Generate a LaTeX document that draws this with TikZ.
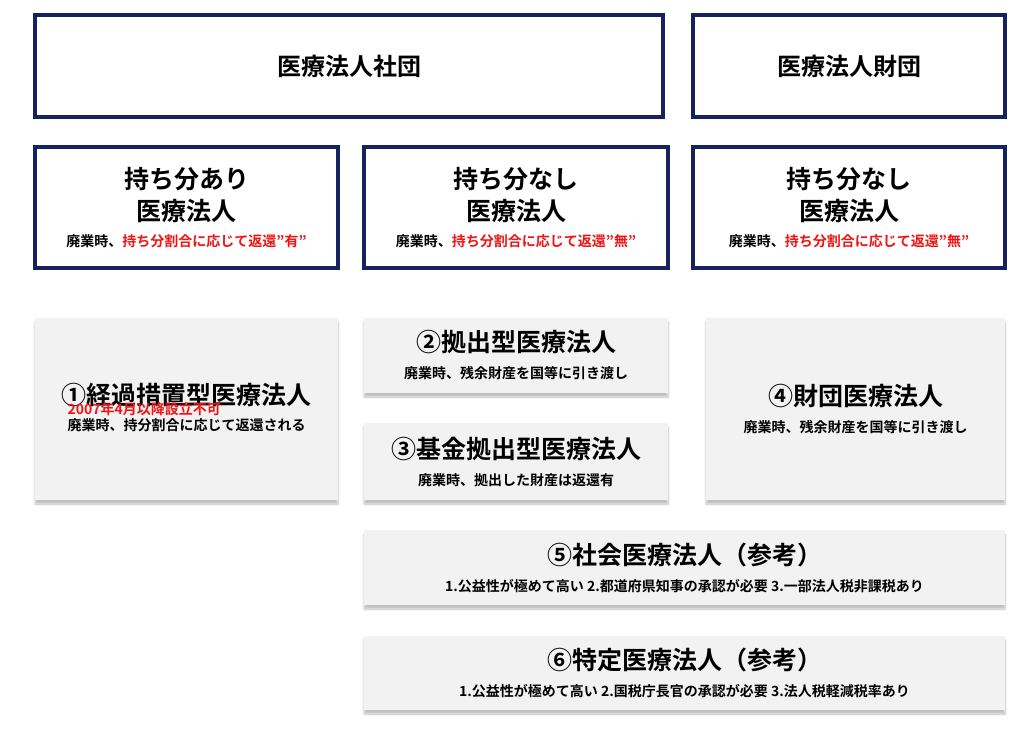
\documentclass[tikz,border=0pt]{standalone}
\usepackage{fontspec}
\setmainfont{Noto Sans CJK JP}[BoldFont={Noto Sans CJK JP Bold}]
\usetikzlibrary{shadows.blur}
\definecolor{navy}{RGB}{20,35,95}
\definecolor{boxgray}{RGB}{242,242,242}
\definecolor{alertred}{RGB}{240,20,20}
\tikzset{
  navybox/.style={draw=navy, line width=3.5pt, fill=white, align=center, inner sep=0pt,
    font=\fontsize{14}{30}\selectfont},
  graybox/.style={fill=boxgray, align=center, inner sep=0pt, font=\fontsize{14}{30}\selectfont,
    blur shadow={shadow xshift=0pt, shadow yshift=-4pt, shadow blur steps=6, shadow opacity=25}},
  big/.style={font=\bfseries\fontsize{24}{28}\selectfont}
}
\newcommand{\red}[1]{\textcolor{alertred}{#1}}
\newcommand{\bigt}[1]{{\fontsize{25}{30}\selectfont\bfseries #1}}
\newcommand{\smallt}[1]{{\fontsize{14}{19}\selectfont\bfseries #1}}
\begin{document}
\begin{tikzpicture}[x=1pt, y=-1pt]
\useasboundingbox (0,0) rectangle (1024,733);
% top row
\node[navybox, big, minimum width=628, minimum height=102] (shadan) at (349,66) {医療法人社団};
\node[navybox, big, minimum width=312, minimum height=102] (zaidan) at (849,66) {医療法人財団};
% second row
\node[navybox, minimum width=303, minimum height=121] (ari) at (186.5,207.5)
  {\bigt{持ち分あり}\\[2pt]\bigt{医療法人}\\[-4pt]\smallt{廃業時、\red{持ち分割合に応じて返還”有”}}};
\node[navybox, minimum width=304, minimum height=121] (nashi) at (516,207.5)
  {\bigt{持ち分なし}\\[2pt]\bigt{医療法人}\\[-4pt]\smallt{廃業時、\red{持ち分割合に応じて返還”無”}}};
\node[navybox, minimum width=312, minimum height=121] (znashi) at (849,207.5)
  {\bigt{持ち分なし}\\[2pt]\bigt{医療法人}\\[-4pt]\smallt{廃業時、\red{持ち分割合に応じて返還”無”}}};
% gray boxes
\node[graybox, minimum width=303, minimum height=182] (keika) at (186.5,409)
  {\bigt{①経過措置型医療法人}\\[-12pt]\renewcommand\arraystretch{0.75}\smallt{\begin{tabular}{@{}l@{}}\red{2007年4月以降設立不可}\\廃業時、持分割合に応じて返還される\end{tabular}}};
\node[graybox, minimum width=304, minimum height=75] (kyoshutsu) at (516,355.5)
  {\bigt{②拠出型医療法人}\\[-3pt]\smallt{廃業時、残余財産を国等に引き渡し}};
\node[graybox, minimum width=304, minimum height=77] (kikin) at (516,461.5)
  {\bigt{③基金拠出型医療法人}\\[-3pt]\smallt{廃業時、拠出した財産は返還有}};
\node[graybox, minimum width=299, minimum height=182] (zaidanho) at (855.5,409)
  {\bigt{④財団医療法人}\\[-3pt]\smallt{廃業時、残余財産を国等に引き渡し}};
\node[graybox, minimum width=641, minimum height=75] (shakai) at (684.5,567.5)
  {\bigt{⑤社会医療法人（参考）}\\[-3pt]\smallt{1.公益性が極めて高い 2.都道府県知事の承認が必要 3.一部法人税非課税あり}};
\node[graybox, minimum width=641, minimum height=74] (tokutei) at (684.5,673)
  {\bigt{⑥特定医療法人（参考）}\\[-3pt]\smallt{1.公益性が極めて高い 2.国税庁長官の承認が必要 3.法人税軽減税率あり}};
\end{tikzpicture}
\end{document}
